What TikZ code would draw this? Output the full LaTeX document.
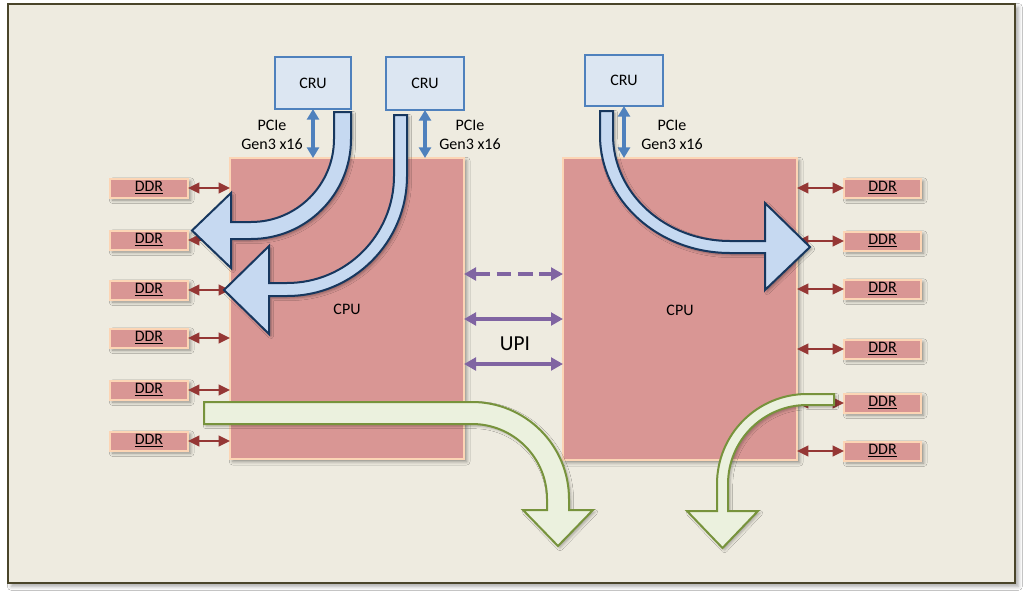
\documentclass[tikz,border=0pt]{standalone}
\usepackage{fontspec}
\setmainfont{Carlito}
\usetikzlibrary{arrows.meta,fit,shadows.blur}

\definecolor{panel}{HTML}{EEEBE0}
\definecolor{frameline}{HTML}{4A452A}
\definecolor{cpufill}{HTML}{D99694}
\definecolor{cpuline}{HTML}{FCD5B5}
\definecolor{crufill}{HTML}{DCE6F2}
\definecolor{cruline}{HTML}{4F81BD}
\definecolor{flowblue}{HTML}{C6D9F1}
\definecolor{flowblueline}{HTML}{17375E}
\definecolor{flowgreen}{HTML}{EBF1DE}
\definecolor{flowgreenline}{HTML}{77933C}
\definecolor{ddrred}{HTML}{953735}
\definecolor{upipurple}{HTML}{8064A2}

\tikzset{
  box/.style={inner sep=0pt, outer sep=0pt},
  txt/.style={inner sep=0pt, font=\fontsize{12}{14}\selectfont},
  softshadow/.style={blur shadow={shadow xshift=2pt, shadow yshift=-2pt,
      shadow blur radius=2.5pt, shadow opacity=40}},
  cpubox/.style={box, fill=cpufill, draw=cpuline, line width=1.5pt, softshadow},
  ddrbox/.style={box, fill=cpufill, draw=cpuline, line width=1.5pt, softshadow},
  crubox/.style={box, fill=crufill, draw=cruline, line width=1.5pt},
  lbl/.style={inner sep=0pt, align=center, font=\fontsize{12}{14.5}\selectfont},
  pcie/.style={draw=cruline, line width=3pt, >={Triangle[length=8pt,width=9pt]}, <->},
  ddrlink/.style={draw=ddrred, line width=1.4pt, >={Triangle[length=8.5pt,width=8pt]}, <->},
  upi/.style={draw=upipurple, line width=2.4pt, >={Triangle[length=9pt,width=9.5pt]}, <->},
  blueflow/.style={fill=flowblue, draw=flowblueline, line width=1.5pt,
      blur shadow={shadow xshift=1.5pt, shadow yshift=-1.5pt, shadow blur radius=2pt, shadow opacity=35}},
  greenflow/.style={fill=flowgreen, draw=flowgreenline, line width=1.5pt,
      blur shadow={shadow xshift=1.5pt, shadow yshift=-1.5pt, shadow blur radius=2pt, shadow opacity=30}},
}

\begin{document}
\begin{tikzpicture}[x=0.75pt, y=-0.75pt]
  \useasboundingbox (0,0) rectangle (1023,596);
  \fill[white] (0,0) rectangle (1023,596);

  % outer panel
  \node[box, fit={(8,4) (1015,583)}, fill=panel, draw=frameline, line width=1.5pt,
        blur shadow={shadow xshift=2.5pt, shadow yshift=-2.5pt, shadow blur radius=3pt, shadow opacity=35}] (panelbox) {};

  % processors
  \node[cpubox, fit={(230,158) (464,459)}, label={[txt, yshift=-1pt]center:CPU}] (cpuL) {};
  \node[cpubox, fit={(563,158) (797,460)}, label={[txt, yshift=-1pt]center:CPU}] (cpuR) {};

  % memory channels
  \foreach \yy [count=\i] in {188,240,290,338,390,441} {
    \node[ddrbox, fit={(110,\yy-9.5) (188,\yy+9.5)}, label={[txt]center:\underline{DDR}}] (dl\i) {};
    \draw[ddrlink] (dl\i.east) -- (dl\i.east -| cpuL.west);
  }
  \foreach \yy [count=\i] in {188,241,289,349,403,451} {
    \node[ddrbox, fit={(844,\yy-9.5) (921,\yy+9.5)}, label={[txt]center:\underline{DDR}}] (dr\i) {};
    \draw[ddrlink] (dr\i.west) -- (dr\i.west -| cpuR.east);
  }

  % readout units and their PCIe links
  \node[crubox, fit={(275,57) (351,109)}, label={[txt]center:CRU}] (cru1) {};
  \node[crubox, fit={(386,57) (464,110)}, label={[txt]center:CRU}] (cru2) {};
  \node[crubox, fit={(585,55) (663,106)}, label={[txt]center:CRU}] (cru3) {};
  \draw[pcie] (cru1.south) -- (cru1.south |- cpuL.north);
  \draw[pcie] (cru2.south) -- (cru2.south |- cpuL.north);
  \draw[pcie] (cru3.south) -- (cru3.south |- cpuR.north);
  \node[lbl] (pl1) at (272,135) {PCIe\\Gen3 x16};
  \node[lbl] (pl2) at (470,135) {PCIe\\Gen3 x16};
  \node[lbl] (pl3) at (672,135) {PCIe\\Gen3 x16};

  % UPI links between the processors
  \coordinate (u1) at (0,274);
  \coordinate (u2) at (0,319);
  \coordinate (u3) at (0,364);
  \draw[upi, dash pattern=on 11pt off 5pt] (cpuL.east |- u1) -- (cpuR.west |- u1);
  \draw[upi] (cpuL.east |- u2) -- (cpuR.west |- u2);
  \draw[upi] (cpuL.east |- u3) -- (cpuR.west |- u3);
  \node[inner sep=0pt, font=\fontsize{16}{18}\selectfont] (upilbl) at (515,344) {UPI};

  % data flow from the readout units into memory
  \path[blueflow] (334,112) -- (351,112) -- (351,139)
    .. controls (351,194.2) and (306.2,239) .. (251,239) -- (231,239) -- (231,268)
    -- (192,230.5) -- (231,193) -- (231,222) -- (251,222)
    .. controls (296.8,222) and (334,184.8) .. (334,139) -- cycle;
  \path[blueflow] (394,115) -- (407,115) -- (407,176)
    .. controls (407,242.3) and (353.3,296) .. (287,296) -- (269,296) -- (269,334)
    -- (224,290) -- (269,246) -- (269,283) -- (287,283)
    .. controls (346.1,283) and (394,235.1) .. (394,176) -- cycle;
  \path[blueflow] (600,111) -- (613,111) -- (613,135)
    .. controls (613,193.5) and (665.4,241) .. (730,241) -- (765,241) -- (765,203)
    -- (810,247) -- (765,290) -- (765,253) -- (730,253)
    .. controls (658.2,253) and (600,200.2) .. (600,135) -- cycle;

  % data flow out of memory
  \path[greenflow] (204,402) -- (472,402)
    .. controls (525.6,402) and (569,445.4) .. (569,499) -- (569,510) -- (593,510)
    -- (558,546) -- (523,510) -- (547,510) -- (547,499)
    .. controls (547,457.6) and (513.4,424) .. (472,424) -- (204,424) -- cycle;
  \path[greenflow] (834,394) -- (807,394)
    .. controls (757.3,394) and (717,434.3) .. (717,484) -- (717,511) -- (687,511)
    -- (722.5,548) -- (758,511) -- (728,511) -- (728,484)
    .. controls (728,440.4) and (763.4,405) .. (807,405) -- (834,405) -- cycle;
\end{tikzpicture}
\end{document}
